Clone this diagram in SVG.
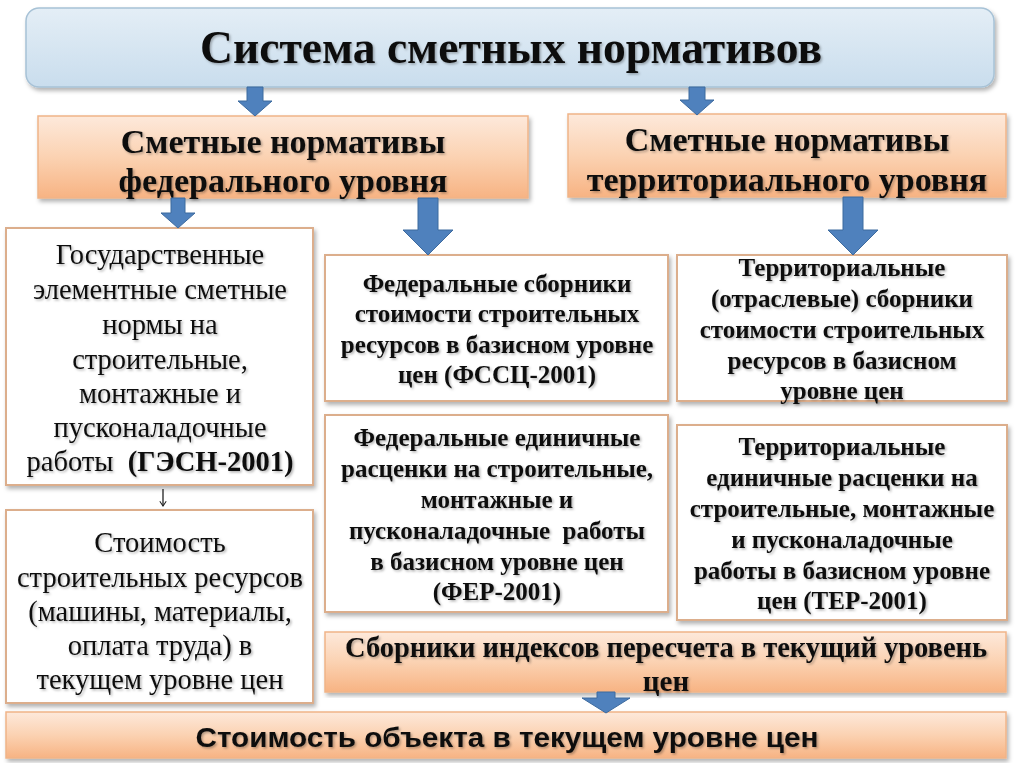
<svg xmlns="http://www.w3.org/2000/svg" width="1024" height="767" viewBox="0 0 1024 767">
<defs>
<linearGradient id="gBlue" x1="0" y1="0" x2="0" y2="1"><stop offset="0" stop-color="#e4eef6"/><stop offset="1" stop-color="#c9dded"/></linearGradient>
<linearGradient id="gOrange" x1="0" y1="0" x2="0" y2="1"><stop offset="0" stop-color="#fde9db"/><stop offset="0.5" stop-color="#fbd2b2"/><stop offset="1" stop-color="#f7b383"/></linearGradient>
<filter id="sh" x="-5%" y="-5%" width="110%" height="115%"><feDropShadow dx="2" dy="3" stdDeviation="2" flood-color="#000" flood-opacity="0.3"/></filter>
<filter id="tsh" x="-5%" y="-10%" width="110%" height="130%"><feDropShadow dx="1.5" dy="1.5" stdDeviation="1" flood-color="#000" flood-opacity="0.3"/></filter>
<marker id="thin" viewBox="0 0 10 10" refX="9" refY="5" markerWidth="8" markerHeight="8" orient="auto" markerUnits="userSpaceOnUse"><path d="M3 1 L9 5 L3 9" fill="none" stroke="#222" stroke-width="1.3"/></marker>
</defs>
<style>
.title{font-family:"Liberation Serif",serif;font-weight:bold;font-size:46px;fill:#111;text-anchor:middle}
.hdr{font-family:"Liberation Serif",serif;font-weight:bold;font-size:34px;fill:#111;text-anchor:middle}
.reg{font-family:"Liberation Serif",serif;font-size:28.5px;fill:#111;text-anchor:middle}
.bld{font-family:"Liberation Serif",serif;font-weight:bold;font-size:25px;fill:#111;text-anchor:middle}
.idx{font-family:"Liberation Serif",serif;font-weight:bold;font-size:29px;fill:#111;text-anchor:middle}
.narrow{font-family:"Liberation Sans",sans-serif;font-weight:bold;font-size:28px;fill:#111;text-anchor:middle}
.white{fill:#ffffff;stroke:#dcae8c;stroke-width:2}
.orange{fill:url(#gOrange);stroke:#f0b488;stroke-width:1.5}
.arrow{fill:#4f81bd;stroke:#3d6a9e;stroke-width:1}
</style>
<rect width="1024" height="767" fill="#ffffff"/>

<g id="title">
<rect x="26" y="8" width="968" height="79" rx="13" fill="url(#gBlue)" stroke="#a7c2d6" stroke-width="1.5" filter="url(#sh)"/>
<text class="title" x="511" y="63" textLength="622" lengthAdjust="spacingAndGlyphs" filter="url(#tsh)">Система сметных нормативов</text>
</g>

<g id="federal">
<rect class="orange" x="38" y="116" width="490" height="82" filter="url(#sh)"/>
<text class="hdr" x="283" y="153" filter="url(#tsh)">Сметные нормативы</text>
<text class="hdr" x="283" y="192" filter="url(#tsh)">федерального уровня</text>
</g>

<g id="territorial">
<rect class="orange" x="568" y="114" width="438" height="83" filter="url(#sh)"/>
<text class="hdr" x="787" y="151" filter="url(#tsh)">Сметные нормативы</text>
<text class="hdr" x="787" y="191" filter="url(#tsh)">территориального уровня</text>
</g>

<g id="gesn">
<rect class="white" x="6" y="228" width="307" height="257" filter="url(#sh)"/>
<g class="reg" filter="url(#tsh)">
<text x="160" y="264">Государственные</text>
<text x="160" y="299">элементные сметные</text>
<text x="160" y="334">нормы на</text>
<text x="160" y="369">строительные,</text>
<text x="160" y="403">монтажные и</text>
<text x="160" y="437">пусконаладочные</text>
<text x="160" y="471" xml:space="preserve">работы  <tspan font-weight="bold">(ГЭСН-2001)</tspan></text>
</g>
</g>

<g id="resources">
<rect class="white" x="6" y="510" width="307" height="193" filter="url(#sh)"/>
<g class="reg" filter="url(#tsh)">
<text x="160" y="552">Стоимость</text>
<text x="160" y="587">строительных ресурсов</text>
<text x="160" y="621">(машины, материалы,</text>
<text x="160" y="655">оплата труда) в</text>
<text x="160" y="689">текущем уровне цен</text>
</g>
</g>

<g id="fssc">
<rect class="white" x="325" y="255" width="343" height="146" filter="url(#sh)"/>
<g class="bld" filter="url(#tsh)">
<text x="497" y="292">Федеральные сборники</text>
<text x="497" y="322">стоимости строительных</text>
<text x="497" y="353">ресурсов в базисном уровне</text>
<text x="497" y="383">цен (ФССЦ-2001)</text>
</g>
</g>

<g id="fer">
<rect class="white" x="325" y="415" width="343" height="197" filter="url(#sh)"/>
<g class="bld" filter="url(#tsh)">
<text x="497" y="446">Федеральные единичные</text>
<text x="497" y="477">расценки на строительные,</text>
<text x="497" y="508">монтажные и</text>
<text x="497" y="539" xml:space="preserve">пусконаладочные  работы</text>
<text x="497" y="570">в базисном уровне цен</text>
<text x="497" y="600">(ФЕР-2001)</text>
</g>
</g>

<g id="tssc">
<rect class="white" x="677" y="255" width="330" height="146" filter="url(#sh)"/>
<g class="bld" filter="url(#tsh)">
<text x="842" y="276">Территориальные</text>
<text x="842" y="307">(отраслевые) сборники</text>
<text x="842" y="338">стоимости строительных</text>
<text x="842" y="369">ресурсов в базисном</text>
<text x="842" y="399">уровне цен</text>
</g>
</g>

<g id="ter">
<rect class="white" x="677" y="425" width="330" height="195" filter="url(#sh)"/>
<g class="bld" filter="url(#tsh)">
<text x="842" y="455">Территориальные</text>
<text x="842" y="486">единичные расценки на</text>
<text x="842" y="517">строительные, монтажные</text>
<text x="842" y="548">и пусконаладочные</text>
<text x="842" y="579">работы в базисном уровне</text>
<text x="842" y="609">цен (ТЕР-2001)</text>
</g>
</g>

<g id="indexes">
<rect class="orange" x="325" y="632" width="681" height="60" filter="url(#sh)"/>
<text class="idx" x="666" y="657" textLength="642" lengthAdjust="spacingAndGlyphs" filter="url(#tsh)">Сборники индексов пересчета в текущий уровень</text>
<text class="idx" x="666" y="691" filter="url(#tsh)">цен</text>
</g>

<g id="result">
<rect class="orange" x="6" y="712" width="1000" height="46" filter="url(#sh)"/>
<text class="narrow" x="507" y="747" textLength="623" lengthAdjust="spacingAndGlyphs" filter="url(#tsh)">Стоимость объекта в текущем уровне цен</text>
</g>

<g id="connectors">
<path class="arrow" d="M247 87 H263 V101 H272 L255 116 L238 101 H247 Z"/>
<path class="arrow" d="M689 87 H705 V100 H714 L697 115 L680 100 H689 Z"/>
<path class="arrow" d="M171 198 H185 V213 H195 L178 228 L161 213 H171 Z"/>
<path class="arrow" d="M418 198 H438 V230 H453 L428 255 L403 230 H418 Z"/>
<path class="arrow" d="M843 197 H863 V230 H878 L853 255 L828 230 H843 Z"/>
<path class="arrow" d="M597 692 H615 V698 H630 L606 713 L582 698 H597 Z"/>
<line x1="163" y1="489" x2="163" y2="506" stroke="#222" stroke-width="1.3" marker-end="url(#thin)"/>
</g>
</svg>
